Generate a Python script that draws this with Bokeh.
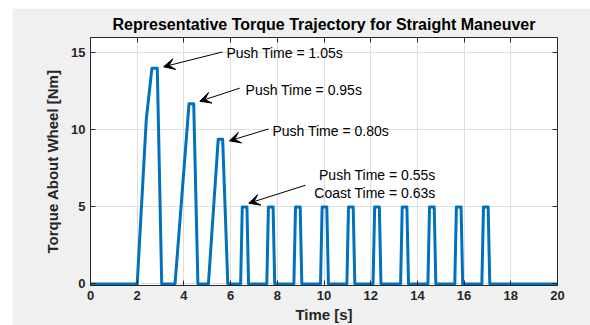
from bokeh.plotting import figure
from bokeh.models import Range1d, LinearAxis, FixedTicker, Label, Arrow, VeeHead
from bokeh.embed import file_html
from bokeh.resources import INLINE

TITLE = "Representative Torque Trajectory for Straight Maneuver"
X_LABEL = "Time [s]"
Y_LABEL = "Torque About Wheel [Nm]"
X_TICKS = [0, 2, 4, 6, 8, 10, 12, 14, 16, 18, 20]
Y_TICKS = [0, 5, 10, 15]

# torque trajectory
time_s = [0.0, 2.0, 2.39, 2.63, 2.86, 3.05,
          3.62, 4.22, 4.42, 4.6,
          5.05, 5.47, 5.66, 5.88,
          6.43, 6.5, 6.7, 6.77,
          7.55, 7.62, 7.82, 7.89,
          8.71, 8.78, 8.98, 9.05,
          9.85, 9.92, 10.12, 10.19,
          10.98, 11.05, 11.25, 11.32,
          12.1, 12.17, 12.37, 12.44,
          13.28, 13.35, 13.55, 13.62,
          14.45, 14.52, 14.72, 14.79,
          15.6, 15.67, 15.87, 15.94,
          16.76, 16.83, 17.03, 17.1,
          20.0]
torque_nm = [0, 0, 10.7, 14.0, 14.0, 0,
             0, 11.7, 11.7, 0,
             0, 9.4, 9.4, 0,
             0, 5, 5, 0,
             0, 5, 5, 0,
             0, 5, 5, 0,
             0, 5, 5, 0,
             0, 5, 5, 0,
             0, 5, 5, 0,
             0, 5, 5, 0,
             0, 5, 5, 0,
             0, 5, 5, 0,
             0, 5, 5, 0,
             0]

# annotations: (text lines, text x, text y, tail x, tail y, head x, head y)
ann_texts = [["Push Time = 1.05s"], ["Push Time = 0.95s"], ["Push Time = 0.80s"],
             ["Push Time = 0.55s", "Coast Time = 0.63s"]]
ann_text_x = [5.82, 6.64, 7.79, 14.78]
ann_text_y = [[15.0], [12.61], [9.94], [7.05, 5.88]]
ann_tail_x = [5.65, 6.39, 7.62, 9.21]
ann_tail_y = [15.06, 12.71, 10.06, 6.41]
ann_head_x = [3.13, 4.68, 5.95, 6.78]
ann_head_y = [14.1, 11.86, 9.29, 5.24]

FONT = "Liberation Sans"
AX_COLOR = "#262626"

p = figure(width=578, height=317, x_range=Range1d(0, 20), y_range=Range1d(-0.1, 16),
           output_backend="svg", toolbar_location=None, title=TITLE,
           min_border_left=78, min_border_right=33, min_border_top=27, min_border_bottom=40,
           border_fill_color="#f0f0f0", background_fill_color="white")
p.margin = (8, 0, 0, 12)

p.title.text_font = FONT
p.title.text_font_size = "16px"
p.title.text_font_style = "bold"
p.title.align = "center"
p.title.text_color = "black"

p.outline_line_color = AX_COLOR
p.outline_line_alpha = 1.0

for ax in (p.xaxis[0], p.yaxis[0]):
    ax.major_tick_in = 5
    ax.major_tick_out = 0
    ax.minor_tick_line_color = None
    ax.axis_line_color = AX_COLOR
    ax.major_tick_line_color = AX_COLOR
    ax.major_label_text_font = FONT
    ax.major_label_text_font_size = "13px"
    ax.major_label_text_font_style = "bold"
    ax.major_label_text_color = AX_COLOR
    ax.major_label_standoff = 5
    ax.axis_label_text_font = FONT
    ax.axis_label_text_font_size = "15px"
    ax.axis_label_text_font_style = "bold"
    ax.axis_label_text_color = AX_COLOR

p.xaxis[0].ticker = FixedTicker(ticks=X_TICKS)
p.yaxis[0].ticker = FixedTicker(ticks=Y_TICKS)
p.xgrid.ticker = FixedTicker(ticks=X_TICKS)
p.ygrid.ticker = FixedTicker(ticks=Y_TICKS)
p.grid.grid_line_color = "#dfdfdf"

p.yaxis[0].axis_label = Y_LABEL
p.yaxis[0].axis_label_standoff = 7
p.xaxis[0].axis_label = X_LABEL
p.xaxis[0].axis_label_standoff = 3

top_ax = LinearAxis(ticker=FixedTicker(ticks=X_TICKS),
                    major_label_overrides={t: "" for t in X_TICKS},
                    major_label_standoff=0, major_tick_in=5, major_tick_out=0,
                    minor_tick_line_color=None, axis_line_color=None,
                    major_tick_line_color=AX_COLOR)
right_ax = LinearAxis(ticker=FixedTicker(ticks=Y_TICKS),
                      major_label_overrides={t: "" for t in Y_TICKS},
                      major_label_standoff=0, major_tick_in=5, major_tick_out=0,
                      minor_tick_line_color=None, axis_line_color=None,
                      major_tick_line_color=AX_COLOR)
p.add_layout(top_ax, "above")
p.add_layout(right_ax, "right")

p.line(time_s, torque_nm, line_width=3, line_color="#0072BD", line_join="round")

for i in range(len(ann_texts)):
    p.add_layout(Arrow(end=VeeHead(size=11, fill_color="black", line_color="black", line_width=1),
                       x_start=ann_tail_x[i], y_start=ann_tail_y[i],
                       x_end=ann_head_x[i], y_end=ann_head_y[i],
                       line_color="black", line_width=1))
    align = "right" if len(ann_texts[i]) > 1 else "left"
    for line_txt, ty in zip(ann_texts[i], ann_text_y[i]):
        p.add_layout(Label(x=ann_text_x[i], y=ty, text=line_txt, text_align=align,
                           text_baseline="middle", text_font=FONT, text_font_size="14px",
                           text_color="black"))

open("out.html", "w").write(file_html(p, INLINE))
